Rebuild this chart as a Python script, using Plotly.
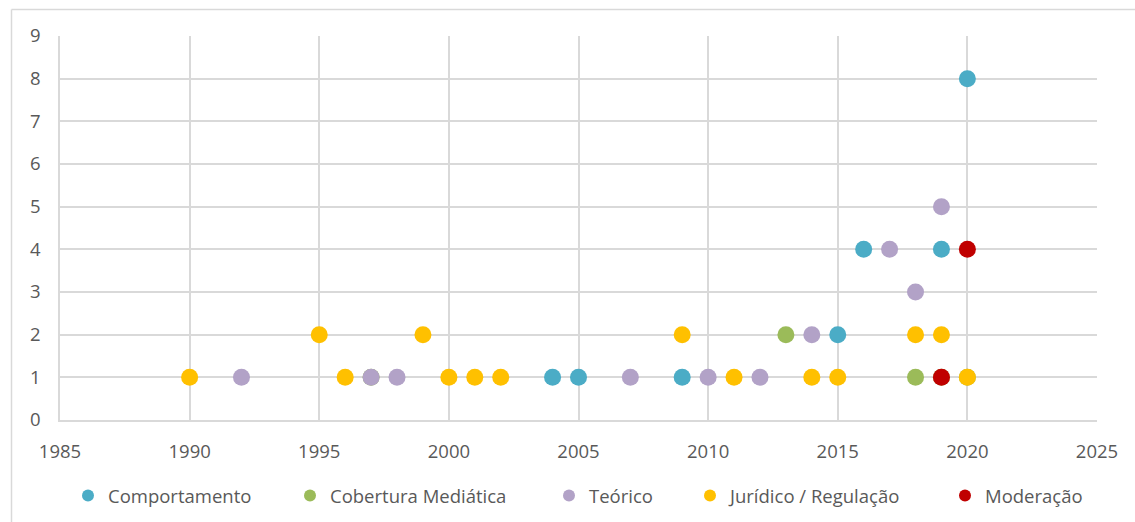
import plotly.graph_objects as go

# ---- data ----
series_names = ["Comportamento", "Cobertura Mediática", "Teórico", "Jurídico / Regulação", "Moderação"]
series_colors = ["#4BACC6", "#9BBB59", "#B2A2C7", "#FFC000", "#C00000"]

comportamento_x = [2004, 2005, 2009, 2015, 2016, 2019, 2020]
comportamento_y = [1, 1, 1, 2, 4, 4, 8]

cobertura_x = [1997, 2013, 2018, 2019, 2020]
cobertura_y = [1, 2, 1, 1, 1]

teorico_x = [1992, 1997, 1998, 2007, 2010, 2012, 2014, 2017, 2018, 2019]
teorico_y = [1, 1, 1, 1, 1, 1, 2, 4, 3, 5]

juridico_x = [1990, 1995, 1996, 1999, 2000, 2001, 2002, 2009, 2011, 2014, 2015, 2018, 2019, 2020]
juridico_y = [1, 2, 1, 2, 1, 1, 1, 2, 1, 1, 1, 2, 2, 1]

moderacao_x = [2019, 2020]
moderacao_y = [1, 4]

x_ticks = [1985, 1990, 1995, 2000, 2005, 2010, 2015, 2020, 2025]
y_ticks = [0, 1, 2, 3, 4, 5, 6, 7, 8, 9]

xs = [comportamento_x, cobertura_x, teorico_x, juridico_x, moderacao_x]
ys = [comportamento_y, cobertura_y, teorico_y, juridico_y, moderacao_y]

# ---- layout geometry ----
W, H = 1135, 522
ML, MR, MT, MB = 60, 38, 36, 102
PW = W - ML - MR
PH = H - MT - MB

def px_to_paper_x(px):
    return (px - ML) / PW

def px_to_paper_y(py):
    return (H - MB - py) / PH

FONT = "'Open Sans', Lato, sans-serif"
TXT = "#595959"
GRID = "#D9D9D9"
FS = 18.5

legend_text_starts = [107, 329, 588, 729, 984]
legend_names = ["legend", "legend2", "legend3", "legend4", "legend5"]

fig = go.Figure()
for i, (name, color, x, y) in enumerate(zip(series_names, series_colors, xs, ys)):
    fig.add_trace(go.Scatter(
        x=x, y=y, mode="markers", name=name,
        marker=dict(color=color, size=17, line=dict(width=0)),
        legend=legend_names[i],
    ))

layout_legends = {}
for i, ln in enumerate(legend_names):
    layout_legends[ln] = dict(
        x=(legend_text_starts[i] - 39) / W,
        xref="container",
        xanchor="left",
        y=1 - 496 / H,
        yref="container",
        yanchor="middle",
        orientation="h",
        bgcolor="rgba(0,0,0,0)",
        font=dict(family=FONT, size=FS, color=TXT),
        itemsizing="constant",
    )

fig.update_layout(
    width=W, height=H,
    margin=dict(l=ML, r=MR, t=MT, b=MB, autoexpand=False),
    paper_bgcolor="white",
    plot_bgcolor="white",
    font=dict(family=FONT, size=FS, color=TXT),
    showlegend=True,
    **layout_legends,
    xaxis=dict(
        range=[1985, 2025], tickvals=x_ticks, ticktext=[str(v) for v in x_ticks],
        showgrid=True, gridcolor=GRID, gridwidth=1.5,
        showline=True, linecolor=GRID, linewidth=1.5,
        zeroline=False, ticks="", ticklabelstandoff=14, automargin=False,
        tickfont=dict(family=FONT, size=FS, color=TXT),
    ),
    yaxis=dict(
        range=[0, 9], tickvals=y_ticks,
        showgrid=True, gridcolor=GRID, gridwidth=1.5,
        showline=True, linecolor=GRID, linewidth=1.5,
        zeroline=False, ticks="", ticklabelstandoff=14, automargin=False,
        tickfont=dict(family=FONT, size=FS, color=TXT),
    ),
    shapes=[
        dict(type="line", xref="paper", yref="paper",
             x0=px_to_paper_x(11.5), x1=px_to_paper_x(1135),
             y0=px_to_paper_y(9.5), y1=px_to_paper_y(9.5),
             line=dict(color=GRID, width=1.5)),
        dict(type="line", xref="paper", yref="paper",
             x0=px_to_paper_x(11.5), x1=px_to_paper_x(11.5),
             y0=px_to_paper_y(9.5), y1=px_to_paper_y(522),
             line=dict(color=GRID, width=1.5)),
    ],
)

fig.write_html("out.html", config={"displayModeBar": False},
               post_script="document.body.style.margin='0';")
